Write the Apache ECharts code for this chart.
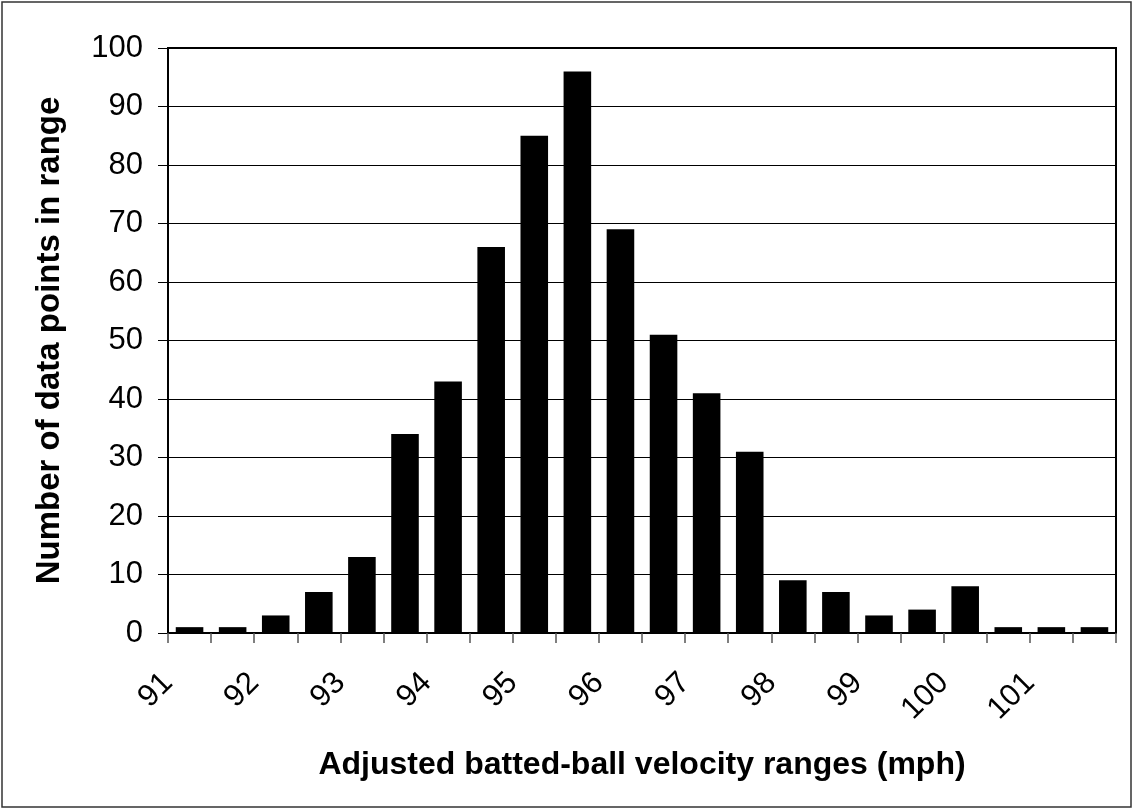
<!DOCTYPE html>
<html>
<head>
<meta charset="utf-8">
<script src="https://cdn.jsdelivr.net/npm/echarts@6/dist/echarts.min.js"></script>
<style>
html,body{margin:0;padding:0;background:#fff;}
#chart{width:1133px;height:809px;}
</style>
</head>
<body>
<div id="chart"></div>
<script>
// Data
const categories = ['91-91.5','91.5-92','92-92.5','92.5-93','93-93.5','93.5-94','94-94.5','94.5-95','95-95.5','95.5-96','96-96.5','96.5-97','97-97.5','97.5-98','98-98.5','98.5-99','99-99.5','99.5-100','100-100.5','100.5-101','101-101.5','101.5-102'];
const counts = [1, 1, 3, 7, 13, 34, 43, 66, 85, 96, 69, 51, 41, 31, 9, 7, 3, 4, 8, 1, 1, 1];
const tickLabels = ['91','92','93','94','95','96','97','98','99','100','101'];
const yTicks = [0, 10, 20, 30, 40, 50, 60, 70, 80, 90, 100];

const font = 'Liberation Sans, Arial, sans-serif';
const chart = echarts.init(document.getElementById('chart'), null, {renderer: 'canvas'});
const option = {
  animation: false,
  backgroundColor: '#fff',
  graphic: [{
    type: 'rect',
    shape: {x: 2, y: 2, width: 1129, height: 805},
    style: {fill: 'none', stroke: '#333', lineWidth: 1.5},
    silent: true
  }],
  grid: {
    left: 168, right: 17, top: 48, bottom: 176,
    show: true, borderColor: '#000', borderWidth: 2, backgroundColor: 'transparent'
  },
  xAxis: [{
    type: 'category',
    data: categories,
    boundaryGap: true,
    axisLine: {show: true, lineStyle: {color: '#000', width: 2}},
    axisTick: {show: true, interval: 0, alignWithLabel: false, length: 10, lineStyle: {color: '#555', width: 1.5}},
    axisLabel: {show: false},
    splitLine: {show: false}
  }, {
    type: 'value',
    position: 'bottom',
    min: 0, max: categories.length, interval: 2,
    axisLine: {show: false},
    axisTick: {show: false},
    splitLine: {show: false},
    axisLabel: {
      show: true, rotate: 45, margin: 45,
      fontFamily: font, fontSize: 31, color: '#000',
      formatter: function (v) { const i = Math.round(v / 2); return tickLabels[i] !== undefined ? tickLabels[i] : ''; }
    },
    name: 'Adjusted batted-ball velocity ranges (mph)',
    nameLocation: 'middle',
    nameGap: 116,
    nameTextStyle: {fontFamily: font, fontSize: 32, fontWeight: 'bold', color: '#000'}
  }],
  yAxis: {
    type: 'value',
    min: yTicks[0], max: yTicks[yTicks.length - 1], interval: 10,
    axisLine: {show: true, lineStyle: {color: '#000', width: 2}},
    axisTick: {show: true, length: 10, lineStyle: {color: '#000', width: 1}},
    splitLine: {show: true, lineStyle: {color: '#000', width: 1}},
    axisLabel: {fontFamily: font, fontSize: 31, color: '#000', margin: 25},
    name: 'Number of data points in range',
    nameLocation: 'middle',
    nameGap: 102,
    nameTextStyle: {fontFamily: font, fontSize: 33, fontWeight: 'bold', color: '#000'}
  },
  series: [{
    type: 'bar',
    xAxisIndex: 0,
    data: counts,
    barWidth: '64%',
    itemStyle: {color: '#000'}
  }]
};
chart.setOption(option);
</script>
</body>
</html>
